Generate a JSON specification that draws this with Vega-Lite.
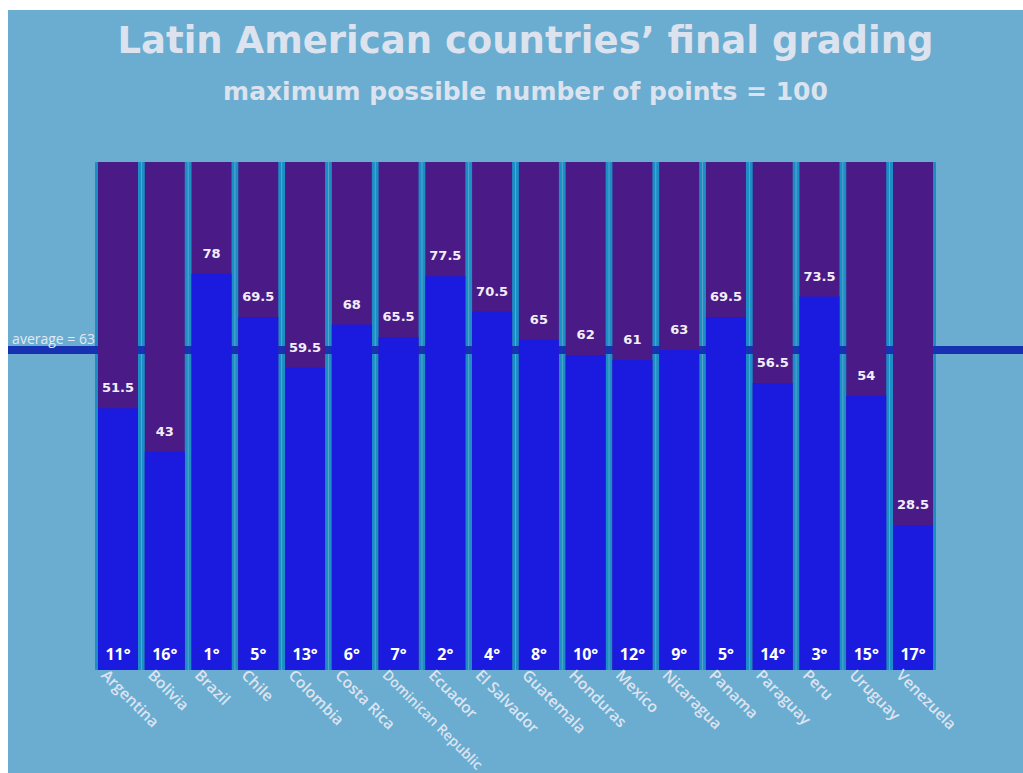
{
  "$schema": "https://vega.github.io/schema/vega-lite/v6.json",
  "width": 1015,
  "height": 763,
  "autosize": {"type": "none"},
  "padding": {"left": 8, "top": 10, "right": 0, "bottom": 0},
  "background": "#ffffff",
  "title": {
    "text": "Latin American countries’  final grading",
    "subtitle": "maximum possible number of points = 100",
    "anchor": "middle",
    "frame": "group",
    "offset": -96,
    "dx": 10,
    "font": "DejaVu Sans",
    "fontSize": 37,
    "fontWeight": "bold",
    "color": "#dce3ef",
    "subtitleFont": "DejaVu Sans",
    "subtitleFontSize": 25,
    "subtitleFontWeight": "bold",
    "subtitleColor": "#dce3ef",
    "subtitlePadding": 19
  },
  "config": {
    "view": {"stroke": null, "fill": "#6badd0"}
  },
  "data": {
    "values": [
      {"country": "Argentina", "score": 51.5, "rank": "11°"},
      {"country": "Bolivia", "score": 43, "rank": "16°"},
      {"country": "Brazil", "score": 78, "rank": "1°"},
      {"country": "Chile", "score": 69.5, "rank": "5°"},
      {"country": "Colombia", "score": 59.5, "rank": "13°"},
      {"country": "Costa Rica", "score": 68, "rank": "6°"},
      {"country": "Dominican Republic", "score": 65.5, "rank": "7°"},
      {"country": "Ecuador", "score": 77.5, "rank": "2°"},
      {"country": "El Salvador", "score": 70.5, "rank": "4°"},
      {"country": "Guatemala", "score": 65, "rank": "8°"},
      {"country": "Honduras", "score": 62, "rank": "10°"},
      {"country": "Mexico", "score": 61, "rank": "12°"},
      {"country": "Nicaragua", "score": 63, "rank": "9°"},
      {"country": "Panama", "score": 69.5, "rank": "5°"},
      {"country": "Paraguay", "score": 56.5, "rank": "14°"},
      {"country": "Peru", "score": 73.5, "rank": "3°"},
      {"country": "Uruguay", "score": 54, "rank": "15°"},
      {"country": "Venezuela", "score": 28.5, "rank": "17°"}
    ]
  },
  "encoding": {
    "x": {
      "field": "country",
      "type": "nominal",
      "sort": null,
      "axis": null,
      "scale": {"range": [90, 925], "paddingInner": 0.1446, "paddingOuter": 0}
    }
  },
  "layer": [
    {
      "mark": {"type": "bar", "color": "#1b8fc5", "width": {"band": 1.15}},
      "encoding": {
        "y": {"datum": 100, "type": "quantitative", "axis": null, "scale": {"domain": [-20.28, 129.92], "nice": false, "zero": false}},
        "y2": {"datum": 0}
      }
    },
    {
      "data": {"values": [{"avg": 63}]},
      "mark": {"type": "rule", "color": "#1631b2", "strokeWidth": 8},
      "encoding": {
        "x": null,
        "y": {"field": "avg", "type": "quantitative", "axis": null}
      }
    },
    {
      "mark": {"type": "bar", "color": "#4a1a87"},
      "encoding": {
        "y": {"datum": 100, "type": "quantitative", "axis": null},
        "y2": {"datum": 0}
      }
    },
    {
      "mark": {"type": "bar", "color": "#1b1be0"},
      "encoding": {
        "y": {"field": "score", "type": "quantitative", "axis": null},
        "y2": {"datum": 0}
      }
    },
    {
      "mark": {"type": "text", "font": "DejaVu Sans", "fontWeight": "bold", "fontSize": 13, "color": "#f2eef8", "baseline": "middle", "dy": -20},
      "encoding": {
        "y": {"field": "score", "type": "quantitative", "axis": null},
        "text": {"field": "score", "type": "quantitative"}
      }
    },
    {
      "mark": {"type": "text", "font": "Open Sans", "fontWeight": "bold", "fontSize": 16, "color": "#ffffff", "baseline": "middle", "dy": -15},
      "encoding": {
        "y": {"datum": 0, "type": "quantitative", "axis": null},
        "text": {"field": "rank", "type": "nominal"}
      }
    },
    {
      "mark": {"type": "text", "font": "Open Sans", "fontWeight": 600, "color": "#dde3f0", "angle": 45, "align": "left", "baseline": "middle", "dx": -8, "dy": 12},
      "encoding": {
        "y": {"datum": 0, "type": "quantitative", "axis": null},
        "text": {"field": "country", "type": "nominal"},
        "size": {"condition": {"test": "datum.country === 'Dominican Republic'", "value": 14}, "value": 15.5}
      }
    },
    {
      "data": {"values": [{"avg": 63, "label": "average = 63"}]},
      "mark": {"type": "text", "font": "Open Sans", "fontSize": 14, "color": "#e3e9f2", "align": "right", "baseline": "middle", "dx": -23, "dy": -10},
      "encoding": {
        "x": {"datum": "Argentina"},
        "y": {"field": "avg", "type": "quantitative", "axis": null},
        "text": {"field": "label", "type": "nominal"}
      }
    }
  ]
}
